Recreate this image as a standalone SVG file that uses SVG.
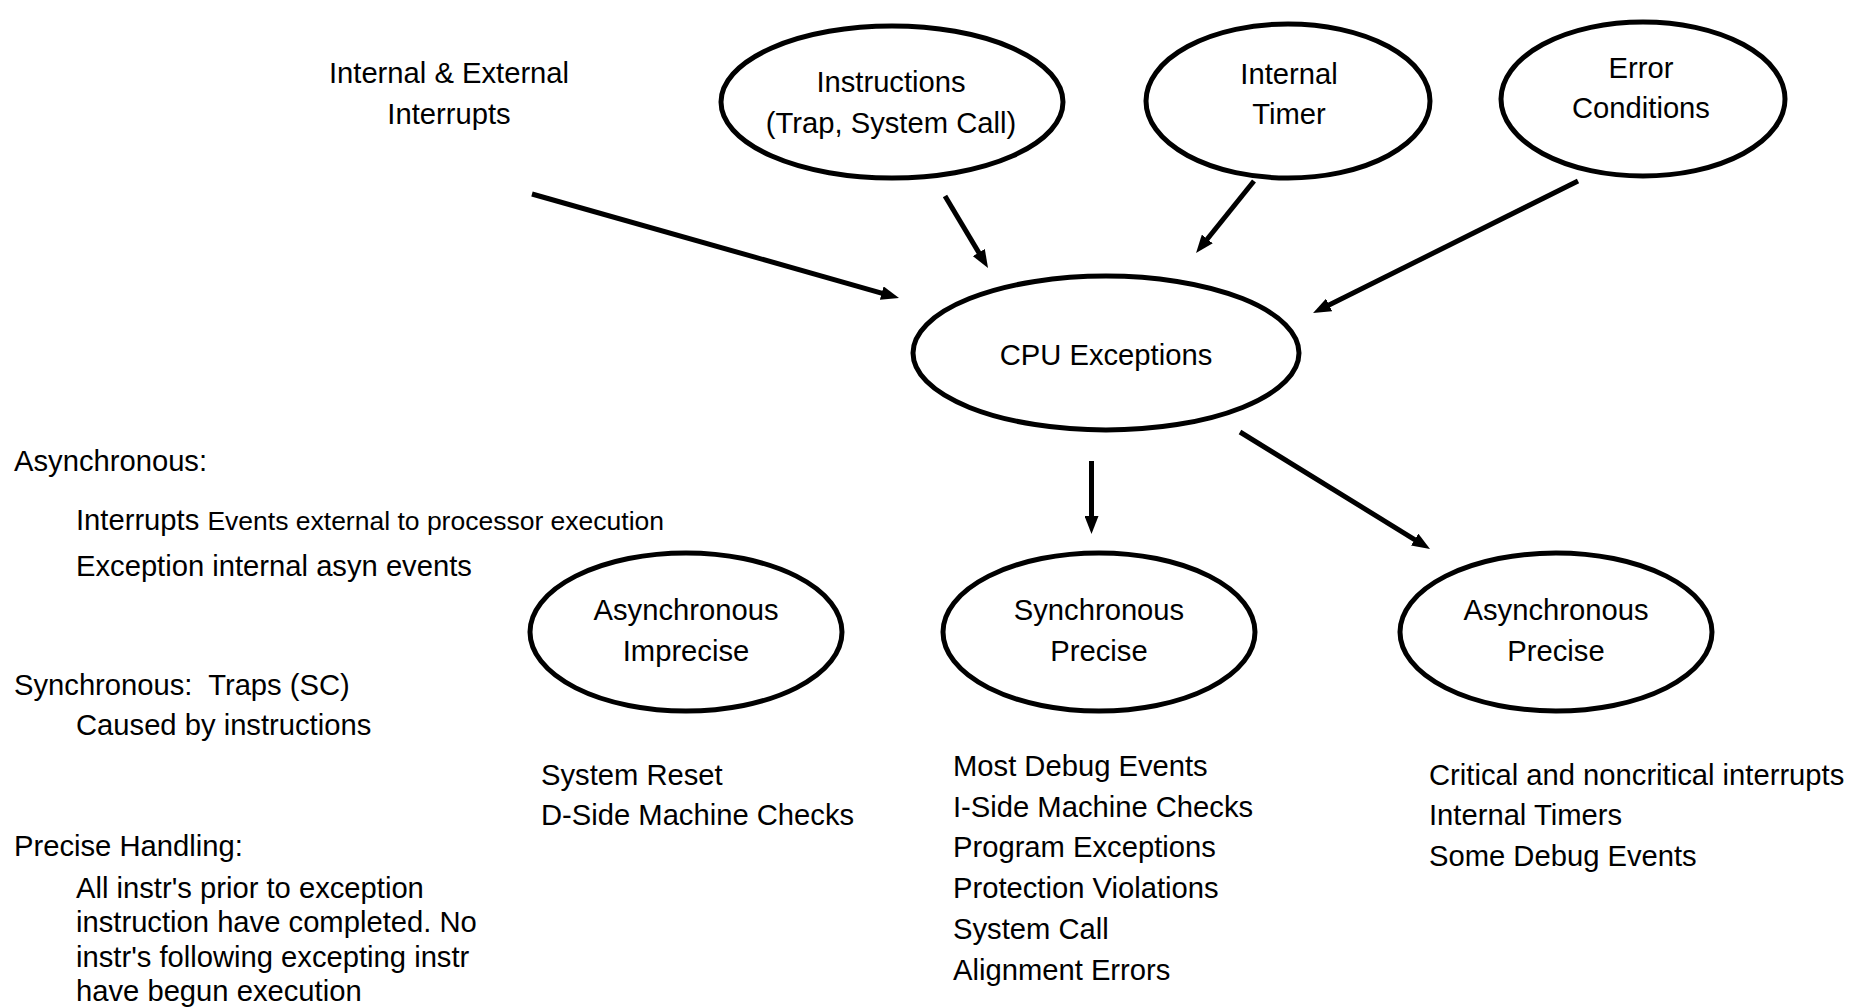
<svg xmlns="http://www.w3.org/2000/svg" width="1866" height="1008" viewBox="0 0 1866 1008">
<style>
text{font-family:"Liberation Sans",Arial,sans-serif;font-size:29.2px;fill:#000}
.c{text-anchor:middle}
.s{font-size:26.5px}
.node ellipse{fill:#fff;stroke:#000;stroke-width:5}
.conn line{stroke:#000;stroke-width:5}
</style>
<defs>
<marker id="ah" markerUnits="userSpaceOnUse" markerWidth="20" markerHeight="14" refX="8" refY="7" orient="auto">
<path d="M0,0 L18,7 L0,14 z" fill="#000"/>
</marker>
</defs>
<rect width="1866" height="1008" fill="#fff"/>
<g id="connectors" class="conn">
<line x1="532" y1="194" x2="889.4" y2="295.3" marker-end="url(#ah)"/>
<line x1="945" y1="196" x2="982.9" y2="259.4" marker-end="url(#ah)"/>
<line x1="1254" y1="181" x2="1202.3" y2="245.2" marker-end="url(#ah)"/>
<line x1="1578" y1="181" x2="1322" y2="308.5" marker-end="url(#ah)"/>
<line x1="1091.5" y1="461" x2="1091.5" y2="524" marker-end="url(#ah)"/>
<line x1="1240" y1="432" x2="1421.5" y2="543.8" marker-end="url(#ah)"/>
</g>
<g id="interrupts-label">
<text class="c" x="449" y="83">Internal &amp; External</text>
<text class="c" x="449" y="124">Interrupts</text>
</g>
<g id="instructions" class="node">
<ellipse cx="892" cy="102" rx="171" ry="76"/>
<text class="c" x="891" y="92">Instructions</text>
<text class="c" x="891" y="133">(Trap, System Call)</text>
</g>
<g id="timer" class="node">
<ellipse cx="1288" cy="101" rx="142" ry="77"/>
<text class="c" x="1289" y="84">Internal</text>
<text class="c" x="1289" y="124">Timer</text>
</g>
<g id="error" class="node">
<ellipse cx="1643" cy="99" rx="142" ry="77"/>
<text class="c" x="1641" y="78">Error</text>
<text class="c" x="1641" y="118">Conditions</text>
</g>
<g id="cpu" class="node">
<ellipse cx="1106" cy="353" rx="193" ry="77"/>
<text class="c" x="1106" y="365">CPU Exceptions</text>
</g>
<g id="async-imprecise" class="node">
<ellipse cx="686" cy="632" rx="156" ry="79"/>
<text class="c" x="686" y="620">Asynchronous</text>
<text class="c" x="686" y="661">Imprecise</text>
</g>
<g id="sync-precise" class="node">
<ellipse cx="1099" cy="632" rx="156" ry="79"/>
<text class="c" x="1099" y="620">Synchronous</text>
<text class="c" x="1099" y="661">Precise</text>
</g>
<g id="async-precise" class="node">
<ellipse cx="1556" cy="632" rx="156" ry="79"/>
<text class="c" x="1556" y="620">Asynchronous</text>
<text class="c" x="1556" y="661">Precise</text>
</g>
<g id="legend">
<text x="14" y="471">Asynchronous:</text>
<text x="76" y="530">Interrupts <tspan class="s">Events external to processor execution</tspan></text>
<text x="76" y="576">Exception internal asyn events</text>
<text x="14" y="695" xml:space="preserve">Synchronous:  Traps (SC)</text>
<text x="76" y="735">Caused by instructions</text>
<text x="14" y="856">Precise Handling:</text>
<text x="76" y="898">All instr's prior to exception</text>
<text x="76" y="932">instruction have completed. No</text>
<text x="76" y="967">instr's following excepting instr</text>
<text x="76" y="1001">have begun execution</text>
</g>
<g id="list-async-imprecise">
<text x="541" y="785">System Reset</text>
<text x="541" y="825">D-Side Machine Checks</text>
</g>
<g id="list-sync-precise">
<text x="953" y="776">Most Debug Events</text>
<text x="953" y="817">I-Side Machine Checks</text>
<text x="953" y="857">Program Exceptions</text>
<text x="953" y="898">Protection Violations</text>
<text x="953" y="939">System Call</text>
<text x="953" y="980">Alignment Errors</text>
</g>
<g id="list-async-precise">
<text x="1429" y="785">Critical and noncritical interrupts</text>
<text x="1429" y="825">Internal Timers</text>
<text x="1429" y="866">Some Debug Events</text>
</g>
</svg>
